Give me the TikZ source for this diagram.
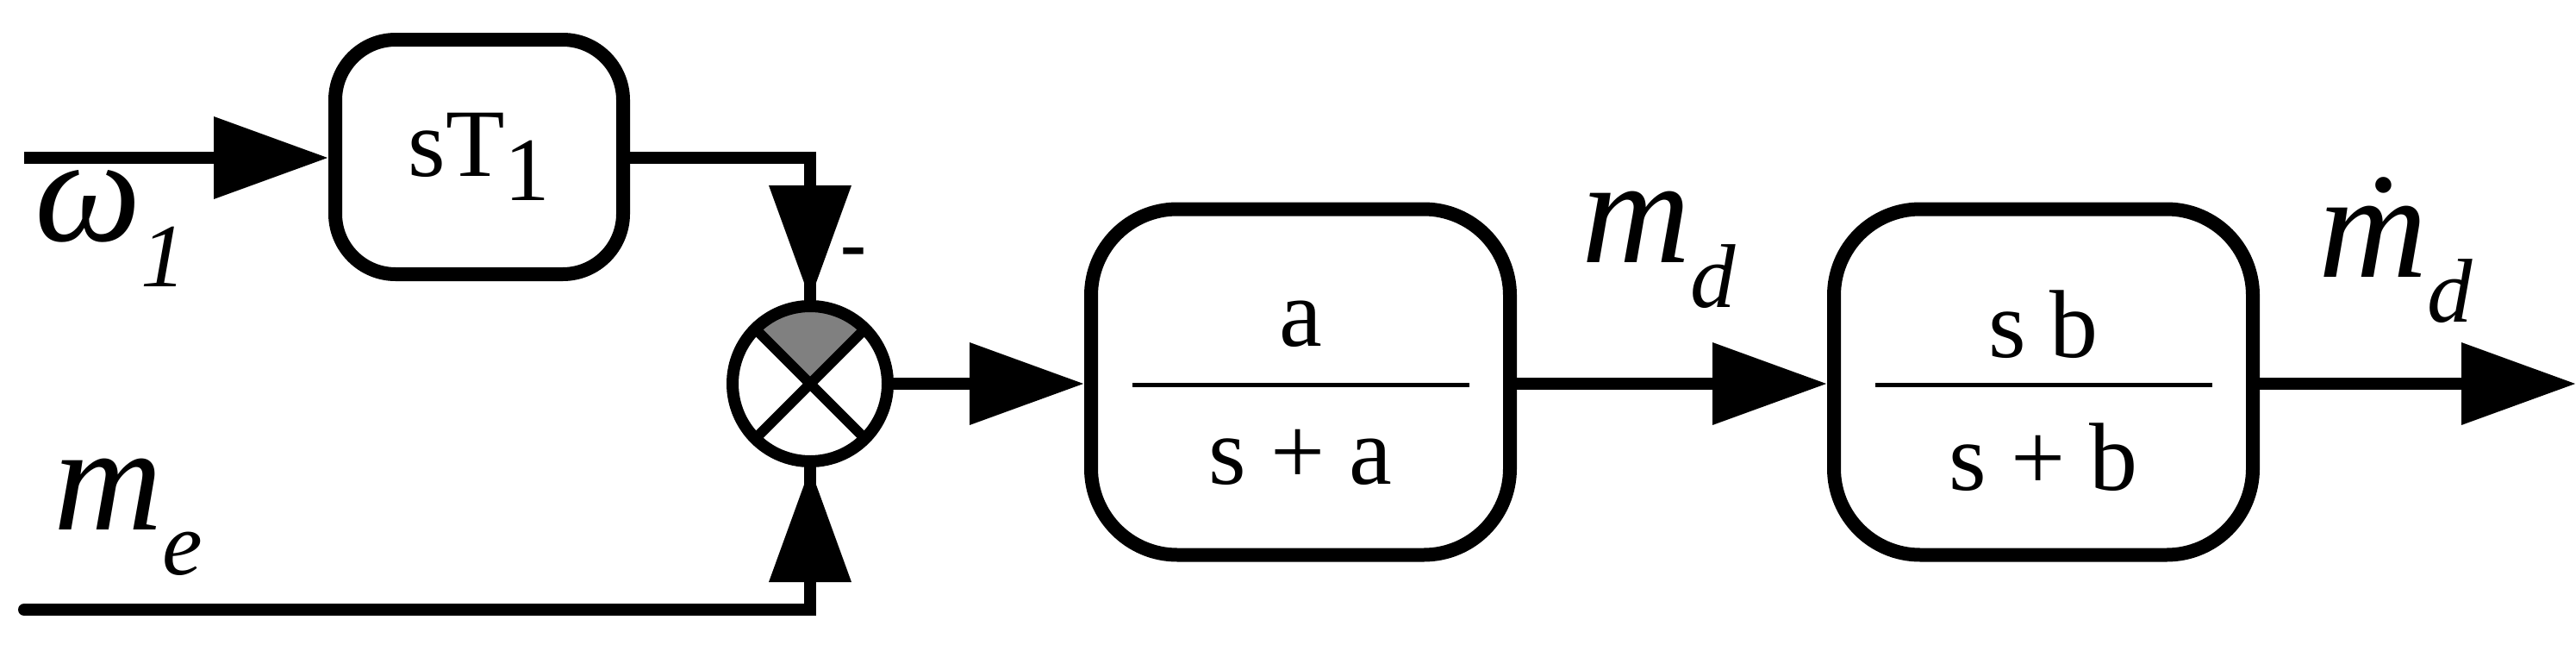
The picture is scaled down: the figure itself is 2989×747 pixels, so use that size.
\documentclass[tikz,border=0pt]{standalone}
\usepackage{fontspec}
\setmainfont{Liberation Serif}
\usetikzlibrary{arrows.meta}
\tikzset{
  blk/.style={draw,line width=16pt,rounded corners=#1,inner sep=0pt},
  con/.style={line width=14pt,-{Triangle[length=133pt 0,width=92pt 0]}},
  wire/.style={line width=14pt,line cap=round},
  lab/.style={inner sep=0pt,anchor=west}
}
\newcommand{\bigf}{\fontsize{112}{112}\selectfont}
\newcommand{\hugef}{\fontsize{175}{175}\selectfont}
\newcommand{\subf}{\fontsize{105}{105}\selectfont}
\begin{document}
\begin{tikzpicture}[x=1pt,y=-1pt]
\useasboundingbox (0,0) rectangle (2989,747);
% blocks
\node[blk=70pt,minimum width=334pt,minimum height=272pt] (b1) at (556,182) {\bigf sT\raisebox{-0.25em}{\subf 1}};
\node[blk=100pt,minimum width=486pt,minimum height=401pt] (b2) at (1509,443) {};
\node[blk=100pt,minimum width=486pt,minimum height=401pt] (b3) at (2371,443) {};
\node (a2) at (1509,376) {\bigf a};
\node (d2) at (1509,530) {\bigf s + a};
\draw[line width=5pt] (1314,446) -- (1705,446);
\node (a3) at (2371,376) {\bigf s b};
\node (d3) at (2371,530) {\bigf s + b};
\draw[line width=5pt] (2176,446) -- (2567,446);
% junction
\coordinate (jc) at (940,445);
\fill[gray] (jc) -- ++(-135:86) arc[start angle=-135,end angle=-45,radius=86] -- cycle;
\draw[line width=12pt] (jc) ++(45:-92) -- ++(45:184);
\draw[line width=12pt] (jc) ++(135:-92) -- ++(135:184);
\node[draw,circle,line width=14pt,minimum size=180pt,inner sep=0pt] (j) at (jc) {};
% inputs
\coordinate (in1) at (28,183);
\coordinate (in2) at (28,707);
\coordinate (out) at (2989,445);
\draw[con] (in1) -- (b1.west |- in1);
\draw[wire] (b1.east |- in1) -| (j.north);
\draw[con] (940,250) -- (j.north);
\draw[wire] (in2) -| (j.south);
\draw[con] (940,650) -- (j.south);
\draw[con] (j.east) -- (b2.west |- j.east);
\draw[con] (b2.east |- j.east) -- (b3.west |- j.east);
\draw[con] (b3.east |- j.east) -- (out);
% labels
\node[lab] (lw) at (40,265) {\hugef\itshape ω\raisebox{-0.3em}{\subf 1}};
\node[lab] (lm) at (62,600) {\hugef\itshape m\raisebox{-0.3em}{\subf e}};
\node[lab] (lmd) at (1835,290) {\hugef\itshape m\raisebox{-0.3em}{\subf d}};
\node[lab] (lmd2) at (2690,290) {\hugef\itshape \.{m}\raisebox{-0.3em}{\subf d}};
\node[lab] (minus) at (975,300) {\fontsize{90}{90}\selectfont\bfseries -};
\end{tikzpicture}
\end{document}
